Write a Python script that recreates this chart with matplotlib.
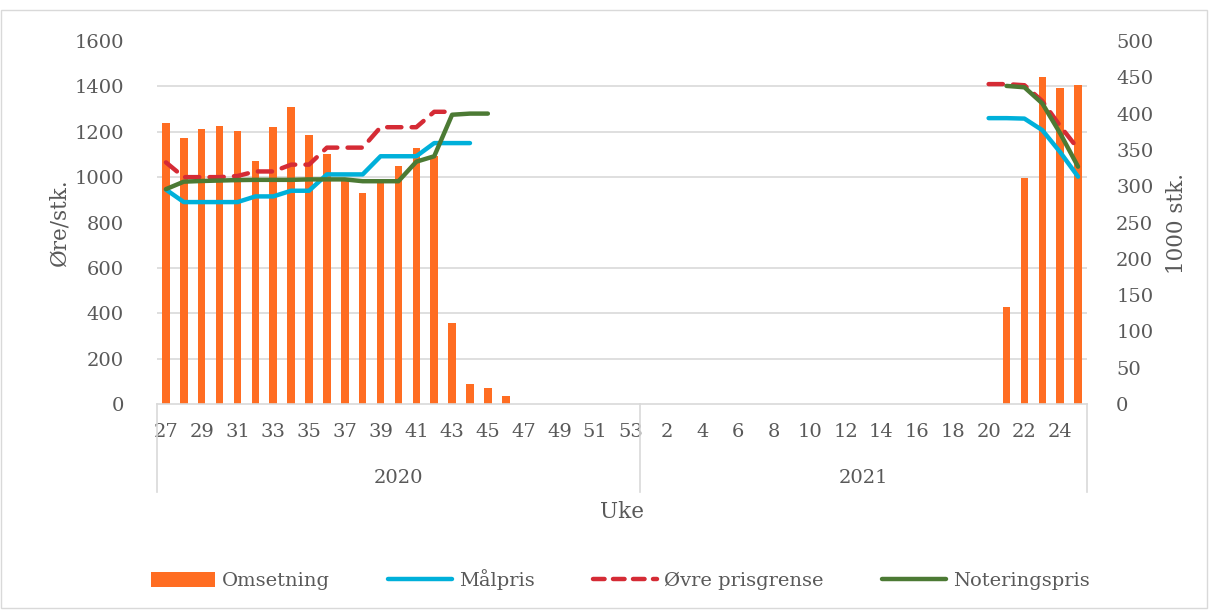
import numpy as np
import matplotlib
matplotlib.use("Agg")
import matplotlib.pyplot as plt
import matplotlib.patches as mpatches
import matplotlib.transforms as mtransforms
from matplotlib.lines import Line2D

plt.rcParams["font.family"] = ["DejaVu Serif"]

# ── data ────────────────────────────────────────────────
weeks_2020 = list(range(27, 54))
weeks_2021 = list(range(1, 26))
years = ["2020", "2021"]
nan = np.nan

# Omsetning (1000 stk.)
omsetning_2020 = [387, 366, 379, 383, 376, 335, 382, 409, 370, 344, 307, 290, 305, 328,
                  353, 341, 112, 27, 22, 11, 0, 0, 0, 0, 0, 0, 0]
omsetning_2021 = [0] * 20 + [133, 311, 451, 435, 439]

# Målpris (øre/stk.)
malpris_2020 = [945, 890, 890, 890, 890, 915, 915, 940, 940, 1012, 1012, 1012, 1092, 1092,
                1092, 1150, 1150, 1150] + [nan] * 9
malpris_2021 = [nan] * 19 + [1260, 1260, 1258, 1207, 1110, 1002]

# Øvre prisgrense (øre/stk.)
ovre_2020 = [1065, 1000, 1000, 1000, 1005, 1025, 1025, 1055, 1055, 1130, 1130, 1130, 1220,
             1220, 1220, 1288, 1288] + [nan] * 10
ovre_2021 = [nan] * 19 + [1410, 1410, 1405, 1335, 1225, 1125]

# Noteringspris (øre/stk.)
noter_2020 = [947, 980, 983, 985, 987, 988, 988, 988, 990, 990, 990, 982, 982, 982, 1068,
              1092, 1275, 1280, 1280] + [nan] * 8
noter_2021 = [nan] * 20 + [1402, 1396, 1325, 1193, 1046]

week_labels = weeks_2020 + weeks_2021
omsetning = omsetning_2020 + omsetning_2021
malpris = malpris_2020 + malpris_2021
ovre = ovre_2020 + ovre_2021
noter = noter_2020 + noter_2021

C_BAR = "#FF6D22"
C_BLUE = "#00B0DA"
C_RED = "#D52B35"
C_GREEN = "#4C7A34"
C_TXT = "#595959"
C_GRID = "#D9D9D9"
FS_TICK = 14
FS_LAB = 15.5

# ── figure ──────────────────────────────────────────────
fig = plt.figure(figsize=(12.11, 6.10), dpi=100)
ax = fig.add_axes([157 / 1211, 1 - 404 / 610, 930 / 1211, 363 / 610])
axl = ax.twinx()  # lines, left scale (drawn over the bars)
x = np.arange(len(week_labels))

# bars on right axis (1000 stk.)
ax.bar(x, omsetning, width=0.42, color=C_BAR, zorder=2)
ax.set_ylim(0, 500)
ax.set_xlim(-0.5, len(x) - 0.5)
ax.yaxis.tick_right()
ax.set_yticks(np.arange(0, 501, 50))
ax.set_yticks(np.arange(0, 501, 62.5), minor=True)
ax.grid(which="minor", axis="y", color=C_GRID, linewidth=1.2, zorder=0)
ax.tick_params(axis="y", which="major", length=0, pad=21, labelsize=FS_TICK,
               labelcolor=C_TXT, labelleft=False, labelright=True)
ax.tick_params(axis="y", which="minor", length=0, labelleft=False, labelright=False)
for s in ["top", "left", "right"]:
    ax.spines[s].set_visible(False)
ax.spines["bottom"].set_color(C_GRID)
ax.spines["bottom"].set_linewidth(1.2)
ax.set_axisbelow(True)

# lines on left axis (øre/stk.)
axl.yaxis.tick_left()
axl.plot(x, malpris, color=C_BLUE, lw=3.2, solid_capstyle="round", solid_joinstyle="round")
axl.plot(x, ovre, color=C_RED, lw=3.2, linestyle=(0, (3.2, 2.3)),
         dash_capstyle="round", dash_joinstyle="round")
axl.plot(x, noter, color=C_GREEN, lw=3.2, solid_capstyle="round", solid_joinstyle="round")
axl.set_ylim(0, 1600)
axl.set_yticks(np.arange(0, 1601, 200))
axl.tick_params(axis="y", length=0, pad=24, labelsize=FS_TICK, labelcolor=C_TXT,
                labelleft=True, labelright=False)
for s in axl.spines.values():
    s.set_visible(False)

# x axis: weeks + year groups
tick_idx = [i for i in x if i % 2 == 0]
ax.set_xticks(tick_idx)
ax.set_xticklabels([str(week_labels[i]) for i in tick_idx])
ax.tick_params(axis="x", length=0, pad=14, labelsize=FS_TICK, labelcolor=C_TXT)

trans = mtransforms.blended_transform_factory(ax.transData, ax.transAxes)
n20 = len(weeks_2020)
for xb in [-0.5, n20 - 0.5, len(x) - 0.5]:
    ax.plot([xb, xb], [0, -0.243], transform=trans, color=C_GRID, lw=1.2, clip_on=False)
ax.text((n20 - 1) / 2, -0.205, years[0], transform=trans, ha="center", va="center",
        fontsize=FS_TICK, color=C_TXT)
ax.text((n20 + len(x) - 1) / 2, -0.205, years[1], transform=trans, ha="center", va="center",
        fontsize=FS_TICK, color=C_TXT)

fig.text(622 / 1211, 1 - 512 / 610, "Uke", ha="center", va="center", fontsize=FS_LAB, color=C_TXT)
fig.text(59 / 1211, 1 - 222 / 610, "Øre/stk.", ha="center", va="center", rotation=90,
         fontsize=FS_LAB, color=C_TXT)
fig.text(1177 / 1211, 1 - 223 / 610, "1000 stk.", ha="center", va="center", rotation=90,
         fontsize=FS_LAB, color=C_TXT)

# legend
handles = [
    mpatches.Patch(facecolor=C_BAR, label="Omsetning"),
    Line2D([], [], color=C_BLUE, lw=3.2, solid_capstyle="round", label="Målpris"),
    Line2D([], [], color=C_RED, lw=3.2, linestyle=(0, (2.6, 1.9)), dash_capstyle="round",
           label="Øvre prisgrense"),
    Line2D([], [], color=C_GREEN, lw=3.2, solid_capstyle="round", label="Noteringspris"),
]
leg = fig.legend(handles=handles, loc="center", bbox_to_anchor=(620 / 1211, 1 - 580 / 610),
                 ncol=4, frameon=False, fontsize=FS_TICK, handlelength=3.3, handleheight=0.8,
                 columnspacing=3.0, handletextpad=0.35)
for t in leg.get_texts():
    t.set_color(C_TXT)

# chart-area border
fig.add_artist(mpatches.Rectangle((0.001, 0.003), 0.996, 0.981, transform=fig.transFigure,
                                  fill=False, edgecolor=C_GRID, lw=1.0))

fig.savefig("out.png", dpi=100)
